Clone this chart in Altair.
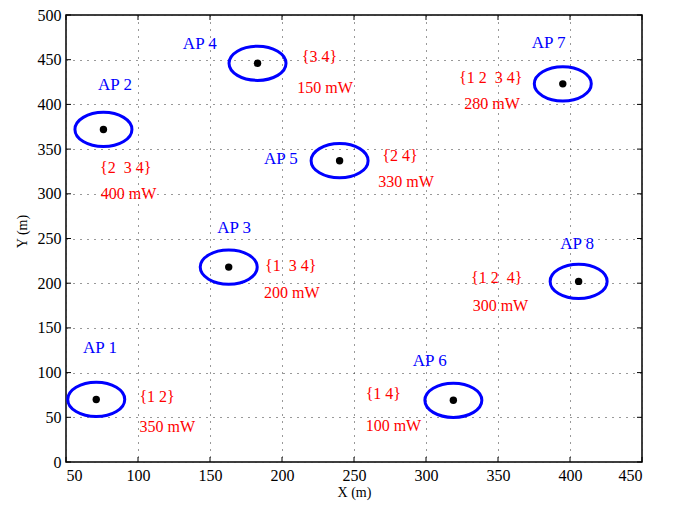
import altair as alt
import pandas as pd

# ---- data ----
ap_names = ["AP 1", "AP 2", "AP 3", "AP 4", "AP 5", "AP 6", "AP 7", "AP 8"]
ap_x = [71, 76, 163, 183, 240, 319, 395, 406]
ap_y = [70, 372, 218, 446, 337, 69, 423, 202]

name_x = [73.6, 84, 166.8, 142.9, 199.2, 302.6, 385.2, 404.9]
name_y = [127, 421.5, 261.8, 467.3, 338.9, 113.4, 469.2, 243.4]

NB = "\u00a0"
set_text = ["{1 2}", "{2" + NB + NB + "3 4}", "{1" + NB + NB + "3 4}", "{3 4}",
            "{2 4}", "{1 4}", "{1 2" + NB + NB + "3 4}", "{1 2" + NB + NB + "4}"]
set_x = [101, 73.6, 188.2, 213.7, 269.7, 258.1, 322.9, 331.3]
set_y = [73, 329, 218.8, 453, 342.5, 75.7, 429.8, 206]

power_text = ["350 mW", "400 mW", "200 mW", "150 mW", "330 mW", "100 mW", "280 mW", "300 mW"]
power_x = [101, 74.1, 187.5, 210.6, 266.9, 258.1, 326.6, 332.4]
power_y = [38.9, 299.6, 188.7, 418.2, 313.5, 40.7, 400.6, 174.8]

x_ticks = [50, 100, 150, 200, 250, 300, 350, 400, 450]
y_ticks = [0, 50, 100, 150, 200, 250, 300, 350, 400, 450, 500]

# ---- tables ----
ap_df = pd.DataFrame({"name": ap_names, "x": ap_x, "y": ap_y})
name_df = pd.DataFrame({"name": ap_names, "x": name_x, "y": name_y})
set_df = pd.DataFrame({"t": set_text, "x": set_x, "y": set_y})
pow_df = pd.DataFrame({"t": power_text, "x": power_x, "y": power_y})
xt_df = pd.DataFrame({"x": x_ticks})
yt_df = pd.DataFrame({"y": y_ticks})

W, H = 576, 447
FONT = "Liberation Serif, Times New Roman, serif"

xs = alt.Scale(domain=[50, 450], nice=False, zero=False)
ys = alt.Scale(domain=[0, 500], nice=False, zero=False)

axis_style = dict(
    grid=True, ticks=False, domain=False, format="d",
    labelFont=FONT, labelFontSize=16, labelColor="black",
    titleFont=FONT, titleFontSize=14, titleColor="black", titleFontWeight="normal",
    gridColor="#333333", gridDash=[1, 6], gridWidth=1, gridOpacity=1,
)
x_axis = alt.Axis(values=x_ticks, title="X (m)", labelPadding=5, titlePadding=2, **axis_style)
y_axis = alt.Axis(values=y_ticks, title="Y (m)", labelPadding=5, titlePadding=8,
                  titleY=216, **axis_style)

X = alt.X("x:Q", scale=xs, axis=x_axis, title="X (m)")
Y = alt.Y("y:Q", scale=ys, axis=y_axis, title="Y (m)")

ellipse_path = ("M -1 0 C -1 -0.331 -0.552 -0.6 0 -0.6 C 0.552 -0.6 1 -0.331 1 0 "
                "C 1 0.331 0.552 0.6 0 0.6 C -0.552 0.6 -1 0.331 -1 0 Z")

ellipses = alt.Chart(ap_df).mark_point(
    shape=ellipse_path, size=3249, filled=False, stroke="#0000ff",
    strokeWidth=3, opacity=1
).encode(x=X, y=Y)

dots = alt.Chart(ap_df).mark_point(
    shape="circle", filled=True, size=55, color="black", opacity=1
).encode(x=X, y=Y)

names = alt.Chart(name_df).mark_text(
    font=FONT, fontSize=17, color="#0000ff", align="center", baseline="middle"
).encode(x=X, y=Y, text="name:N")

sets = alt.Chart(set_df).mark_text(
    font=FONT, fontSize=16, color="#ff0000", align="left", baseline="middle"
).encode(x=X, y=Y, text="t:N")

powers = alt.Chart(pow_df).mark_text(
    font=FONT, fontSize=16, color="#ff0000", align="left", baseline="middle"
).encode(x=X, y=Y, text="t:N")

TL = 5
bottom_ticks = alt.Chart(xt_df).mark_rule(color="black", strokeWidth=1).encode(
    x=X, y=alt.value(H), y2=alt.value(H - TL))
top_ticks = alt.Chart(xt_df).mark_rule(color="black", strokeWidth=1).encode(
    x=X, y=alt.value(0), y2=alt.value(TL))
left_ticks = alt.Chart(yt_df).mark_rule(color="black", strokeWidth=1).encode(
    y=Y, x=alt.value(0), x2=alt.value(TL))
right_ticks = alt.Chart(yt_df).mark_rule(color="black", strokeWidth=1).encode(
    y=Y, x=alt.value(W), x2=alt.value(W - TL))

chart = alt.layer(
    ellipses, dots, names, sets, powers,
    bottom_ticks, top_ticks, left_ticks, right_ticks
).properties(
    width=W, height=H,
    padding={"left": 58, "top": 7, "right": 20, "bottom": 40},
    autosize=alt.AutoSizeParams(type="none"),
).configure_view(
    stroke="black", strokeWidth=1.5
)

chart.save("out.html", embed_options={"renderer": "svg", "actions": False})
